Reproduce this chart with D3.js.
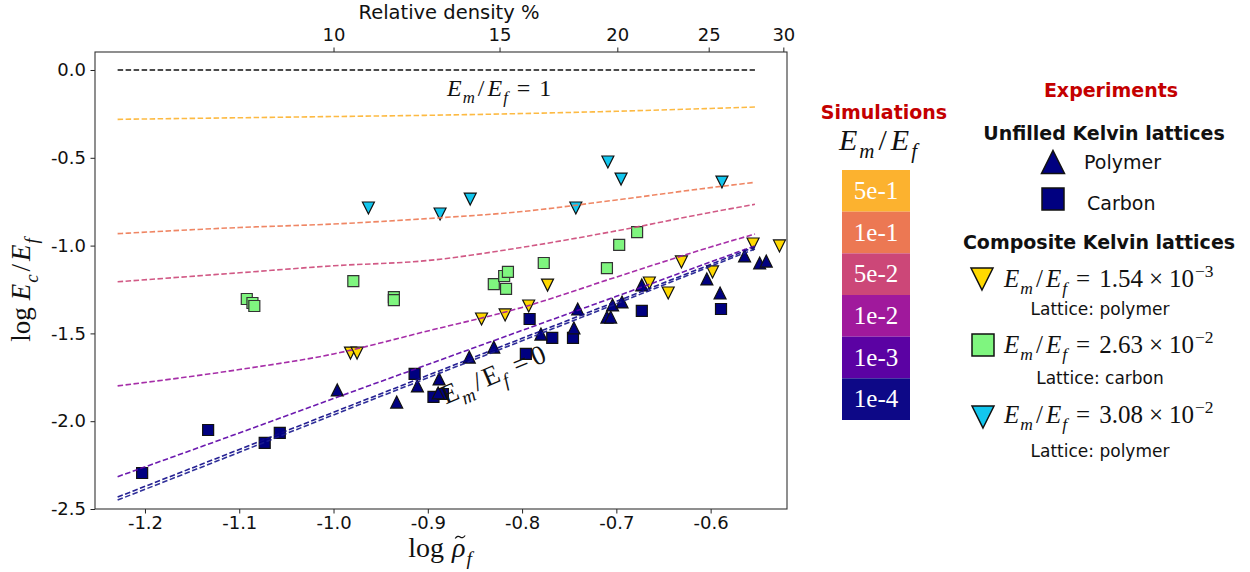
<!DOCTYPE html>
<html>
<head>
<meta charset="utf-8">
<script src="https://cdn.jsdelivr.net/npm/d3@7"></script>
<style>
  body { margin: 0; background: #fff; }
  svg { display: block; }
</style>
</head>
<body>
<div id="chart"></div>
<script>
// simulation curves (log rho_f on x, log Ec/Ef on y)
const simX    = [-1.229, -1.1, -1.0, -0.9, -0.8, -0.7, -0.6, -0.553];
const simOne  = [0, 0, 0, 0, 0, 0, 0, 0];
const sim5e1  = [-0.281, -0.272, -0.265, -0.258, -0.248, -0.235, -0.219, -0.211];
const sim1e1  = [-0.932, -0.897, -0.877, -0.846, -0.806, -0.740, -0.670, -0.640];
const sim5e2  = [-1.206, -1.155, -1.115, -1.085, -1.010, -0.916, -0.811, -0.765];
const sim1e2  = [-1.799, -1.706, -1.617, -1.486, -1.352, -1.179, -1.008, -0.934];
const sim1e3  = [-2.316, -2.067, -1.871, -1.677, -1.483, -1.289, -1.093, -1.002];
const sim1e4  = [-2.432, -2.161, -1.949, -1.739, -1.528, -1.318, -1.107, -1.008];
const simZero = [-2.449, -2.177, -1.964, -1.753, -1.542, -1.331, -1.118, -1.019];
const simLabels = ["5e-1", "1e-1", "5e-2", "1e-2", "1e-3", "1e-4"];

// experiments [log rho_f, log Ec/Ef]
const unfilledPolymer = [
  [-0.996, -1.822], [-0.933, -1.891], [-0.911, -1.799], [-0.889, -1.839], [-0.888, -1.759],
  [-0.856, -1.635], [-0.830, -1.578], [-0.780, -1.504], [-0.745, -1.469], [-0.741, -1.361],
  [-0.710, -1.407], [-0.706, -1.407], [-0.704, -1.338], [-0.694, -1.321], [-0.673, -1.224],
  [-0.604, -1.190], [-0.590, -1.270], [-0.564, -1.059], [-0.548, -1.099], [-0.541, -1.088]
];
const unfilledCarbon = [
  [-1.203, -2.295], [-1.133, -2.050], [-1.073, -2.124], [-1.057, -2.067], [-0.914, -1.731],
  [-0.894, -1.862], [-0.884, -1.845], [-0.796, -1.617], [-0.792, -1.418], [-0.768, -1.526],
  [-0.746, -1.526], [-0.673, -1.372], [-0.589, -1.361]
];
const compositeYellow = [
  [-0.982, -1.612], [-0.975, -1.612], [-0.843, -1.418], [-0.818, -1.395], [-0.793, -1.344],
  [-0.773, -1.225], [-0.665, -1.213], [-0.645, -1.270], [-0.631, -1.093], [-0.598, -1.150],
  [-0.555, -0.991], [-0.527, -1.002]
];
const compositeGreen = [
  [-1.092, -1.304], [-1.086, -1.327], [-1.084, -1.344], [-0.979, -1.202], [-0.936, -1.293],
  [-0.936, -1.310], [-0.830, -1.219], [-0.819, -1.173], [-0.815, -1.150], [-0.817, -1.247],
  [-0.777, -1.099], [-0.710, -1.128], [-0.697, -0.996], [-0.678, -0.923]
];
const compositeCyan = [
  [-0.963, -0.786], [-0.887, -0.820], [-0.855, -0.735], [-0.743, -0.786], [-0.709, -0.524],
  [-0.695, -0.621], [-0.588, -0.638]
];

const xTicks = [-1.2, -1.1, -1.0, -0.9, -0.8, -0.7, -0.6];
const yTicks = [0, -0.5, -1.0, -1.5, -2.0, -2.5];
const densityTicks = [10, 15, 20, 25, 30];

const W = 1250, H = 572;
const plot = {left: 95, right: 787, top: 52, bottom: 509};

const svg = d3.select("#chart").append("svg")
    .attr("width", W)
    .attr("height", H);

const x = d3.scaleLinear().domain([-1.253, -0.519]).range([plot.left, plot.right]);
const y = d3.scaleLinear().domain([-2.5, 0.1025]).range([plot.bottom, plot.top]);

const SANS = "DejaVu Sans";
const SERIF = "Liberation Serif";

// math text helper: parts = [[text, kind, dx]], kind: r, i, sub, sup
function mathText(el, parts, size) {
    let shift = 0;
    parts.forEach(function (p) {
        const kind = p[1];
        const target = kind === "sub" ? size * 0.28 : kind === "sup" ? -size * 0.42 : 0;
        el.append("tspan")
            .attr("dy", target - shift)
            .attr("dx", p[2] || 0)
            .attr("font-size", (kind === "sub" || kind === "sup") ? size * 0.7 : size)
            .attr("font-style", (kind === "i" || kind === "sub") ? "italic" : "normal")
            .text(p[0]);
        shift = target;
    });
    return el;
}

// E_m/E_f with roomier spacing, like TeX math
function ratioParts(italic) {
    const k = italic ? "i" : "r";
    return [["E", k], ["m", "sub", 1], ["/", "r", 3], ["E", k, 3], ["f", "sub", 1]];
}

// axes
const xAxis = svg.append("g")
    .attr("transform", "translate(0," + plot.bottom + ")")
    .call(d3.axisBottom(x).tickValues(xTicks).tickFormat(d => d.toFixed(1))
        .tickSize(4.5).tickPadding(3).tickSizeOuter(0));
const yAxis = svg.append("g")
    .attr("transform", "translate(" + plot.left + ",0)")
    .call(d3.axisLeft(y).tickValues(yTicks).tickFormat(d => d.toFixed(1))
        .tickSize(4.5).tickPadding(4.5).tickSizeOuter(0));
const topAxis = svg.append("g")
    .attr("transform", "translate(0," + plot.top + ")")
    .call(d3.axisTop(x).tickValues(densityTicks.map(v => Math.log10(v / 100)))
        .tickFormat((d, i) => densityTicks[i])
        .tickSize(4.5).tickPadding(7).tickSizeOuter(0));

[xAxis, yAxis, topAxis].forEach(function (a) {
    a.select(".domain").remove();
    a.selectAll("text")
        .attr("font-family", SANS)
        .attr("font-size", 18)
        .attr("fill", "#111");
    a.selectAll("line").attr("stroke", "#222");
});

// frame
svg.append("rect")
    .attr("x", plot.left).attr("y", plot.top)
    .attr("width", plot.right - plot.left)
    .attr("height", plot.bottom - plot.top)
    .attr("fill", "none")
    .attr("stroke", "#333")
    .attr("stroke-width", 1.1);

// axis titles
svg.append("text")
    .attr("x", 449).attr("y", 19)
    .attr("text-anchor", "middle")
    .attr("font-family", SANS)
    .attr("font-size", 19.5)
    .attr("fill", "#111")
    .text("Relative density %");

// x title: log rho_f, tilde drawn as a small path over the rho
const xTitle = mathText(svg.append("text")
    .attr("x", 440).attr("y", 557)
    .attr("text-anchor", "middle")
    .attr("font-family", SERIF)
    .attr("fill", "#111"),
    [["log", "r"], ["\u03C1", "i", 8], ["f", "sub", 1]], 28);
const rhoBox = xTitle.node().getExtentOfChar(3);
const tx = rhoBox.x + rhoBox.width / 2 + 1.5, ty = 557 - 20;
svg.append("path")
    .attr("d", "M" + (tx - 5) + "," + (ty + 1.5) + " q2.5,-3.5 5,-1.5 t5,-1.5")
    .attr("fill", "none")
    .attr("stroke", "#111")
    .attr("stroke-width", 1.2);

mathText(svg.append("text")
    .attr("transform", "translate(30,290) rotate(-90)")
    .attr("text-anchor", "middle")
    .attr("font-family", SERIF)
    .attr("fill", "#111"),
    [["log", "r"], ["E", "i", 7], ["c", "sub", 1], ["/", "r", 3], ["E", "i", 3], ["f", "sub", 1]], 27);

// markers
const tri = s => "M0," + (-s) + "L" + s + "," + s + "L" + (-s) + "," + s + "Z";
const triDown = s => "M0," + s + "L" + s + "," + (-s) + "L" + (-s) + "," + (-s) + "Z";
const sq = s => "M" + (-s) + "," + (-s) + "h" + (2 * s) + "v" + (2 * s) + "h" + (-2 * s) + "Z";

function drawPoints(data, shape, fill, stroke) {
    svg.append("g")
        .selectAll("path")
        .data(data)
        .enter()
        .append("path")
        .attr("transform", d => "translate(" + x(d[0]) + "," + y(d[1]) + ")")
        .attr("d", shape)
        .attr("fill", fill)
        .attr("stroke", stroke)
        .attr("stroke-width", 1.2);
}

drawPoints(compositeCyan, triDown(6), "#12c6ee", "#111");
drawPoints(compositeGreen, sq(5.5), "#7ff57f", "#333");
drawPoints(compositeYellow, triDown(6), "#ffd900", "#111");
drawPoints(unfilledCarbon, sq(5.5), "#000080", "#111");
drawPoints(unfilledPolymer, tri(6), "#000080", "#111");

// simulation lines
const lineGen = d3.line()
    .x((d, i) => x(simX[i]))
    .y(d => y(d))
    .curve(d3.curveMonotoneX);

const simSeries = [
    {values: simOne, color: "#111111", opacity: 1},
    {values: sim5e1, color: "#fdb32f", opacity: 0.9},
    {values: sim1e1, color: "#ed7953", opacity: 0.9},
    {values: sim5e2, color: "#cc4778", opacity: 0.9},
    {values: sim1e2, color: "#9c179e", opacity: 0.9},
    {values: sim1e3, color: "#5c01a6", opacity: 0.9},
    {values: sim1e4, color: "#0d0887", opacity: 0.9},
    {values: simZero, color: "#1a1a8e", opacity: 0.9}
];

svg.append("g")
    .selectAll("path")
    .data(simSeries)
    .enter()
    .append("path")
    .attr("d", d => lineGen(d.values))
    .attr("fill", "none")
    .attr("stroke", d => d.color)
    .attr("stroke-opacity", d => d.opacity)
    .attr("stroke-width", 1.6)
    .attr("stroke-dasharray", "5.5,2.5");

// in-plot labels
mathText(svg.append("text")
    .attr("x", 447).attr("y", 96)
    .attr("font-family", SERIF)
    .attr("fill", "#111"),
    ratioParts(true).concat([["=", "r", 9], ["1", "r", 9]]), 24);

mathText(svg.append("text")
    .attr("transform", "translate(" + x(-0.881) + "," + y(-1.905) + ") rotate(-23)")
    .attr("font-family", SERIF)
    .attr("fill", "#111"),
    ratioParts(false).concat([["=", "r", 10], ["0", "r", 5]]), 27);

// legend: simulations
const RED = "#c40000";
svg.append("text")
    .attr("x", 884).attr("y", 119)
    .attr("text-anchor", "middle")
    .attr("font-family", SANS)
    .attr("font-weight", "bold")
    .attr("font-size", 19)
    .attr("fill", RED)
    .text("Simulations");

mathText(svg.append("text")
    .attr("x", 878).attr("y", 150)
    .attr("text-anchor", "middle")
    .attr("font-family", SERIF)
    .attr("fill", "#111"),
    [["E", "i"], ["m", "sub", 2], ["/", "r", 4], ["E", "i", 4], ["f", "sub", 2]], 30);

const boxColors = ["#fcb22f", "#ec7853", "#cc4778", "#a0199c", "#5b02a3", "#0d0887"];
const boxY = d3.scaleBand().domain(simLabels).range([170, 420]);
const boxes = svg.append("g")
    .selectAll("g")
    .data(simLabels)
    .enter()
    .append("g");
boxes.append("rect")
    .attr("x", 842).attr("y", d => boxY(d))
    .attr("width", 68).attr("height", boxY.bandwidth())
    .attr("fill", (d, i) => boxColors[i]);
boxes.append("text")
    .attr("x", 876).attr("y", d => boxY(d) + boxY.bandwidth() / 2 + 8)
    .attr("text-anchor", "middle")
    .attr("font-family", SERIF)
    .attr("font-size", 25)
    .attr("fill", "#fff")
    .text(d => d);

// legend: experiments
function label(xp, yp, txt, opts) {
    opts = opts || {};
    return svg.append("text")
        .attr("x", xp).attr("y", yp)
        .attr("text-anchor", opts.anchor || "middle")
        .attr("font-family", SANS)
        .attr("font-weight", opts.bold ? "bold" : "normal")
        .attr("font-size", opts.size || 19)
        .attr("fill", opts.color || "#111")
        .text(txt);
}

label(1111, 97, "Experiments", {bold: true, color: RED});
label(1104, 140, "Unfilled Kelvin lattices", {bold: true});
label(1084, 169, "Polymer", {anchor: "start"});
label(1087, 210, "Carbon", {anchor: "start"});
label(1099, 249, "Composite Kelvin lattices", {bold: true});
label(1100, 315, "Lattice: polymer", {size: 17});
label(1100, 384, "Lattice: carbon", {size: 17});
label(1100, 457, "Lattice: polymer", {size: 17});

function legendMark(cx, cy, shape, fill, stroke) {
    svg.append("path")
        .attr("transform", "translate(" + cx + "," + cy + ")")
        .attr("d", shape)
        .attr("fill", fill)
        .attr("stroke", stroke)
        .attr("stroke-width", 1.5);
}
legendMark(1053, 162, tri(11.5), "#000080", "#111");
legendMark(1053, 199, sq(11), "#000080", "#111");
legendMark(982, 279, triDown(11), "#ffd900", "#111");
legendMark(983, 345, sq(11), "#7ff57f", "#111");
legendMark(983, 417, triDown(11), "#12c6ee", "#111");

const ratioText = [
    {y: 287, mant: "1.54", exp: "\u22123"},
    {y: 353, mant: "2.63", exp: "\u22122"},
    {y: 423, mant: "3.08", exp: "\u22122"}
];
ratioText.forEach(function (r) {
    mathText(svg.append("text")
        .attr("x", 1004).attr("y", r.y)
        .attr("font-family", SERIF)
        .attr("fill", "#111"),
        ratioParts(true).concat([["=", "r", 9], [r.mant, "r", 9], ["\u00D7", "r", 6],
            ["10", "r", 6], [r.exp, "sup", 1]]), 25);
});
</script>
</body>
</html>
